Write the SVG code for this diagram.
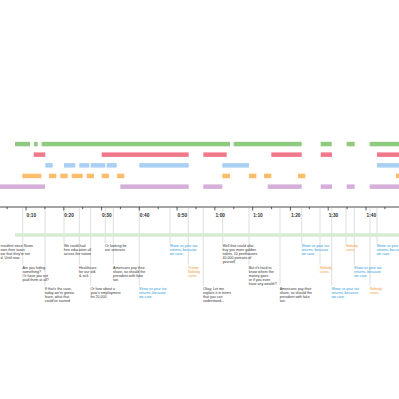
<svg xmlns="http://www.w3.org/2000/svg" width="399" height="399" viewBox="0 0 399 399">
<style>
.g{fill:#8fcb7f}.r{fill:#f0788a}.b{fill:#a9cff2}.o{fill:#fbbd6c}.p{fill:#d5afd9}
.t{font-family:"Liberation Sans",Arial,sans-serif;font-size:3.6px;fill:#333}
.tb{fill:#2a9ad6}.to{fill:#f39a3c}
.ax{font-family:"Liberation Sans",Arial,sans-serif;font-size:4.8px;font-weight:bold;fill:#333}
.ln{stroke:#d6d6d6;stroke-width:0.8;fill:none}
.tk{stroke:#333;stroke-width:0.8}
</style>
<rect width="399" height="399" fill="#fff"/>
<g id="bars">
<g id="row-green" class="g">
<rect x="15" y="141.8" width="15" height="4.5"/><rect x="34" y="141.8" width="3.7" height="4.5"/><rect x="41.7" y="141.8" width="188.3" height="4.5"/><rect x="233.7" y="141.8" width="68" height="4.5"/><rect x="320.7" y="141.8" width="11" height="4.5"/><rect x="346.7" y="141.8" width="8" height="4.5"/><rect x="369.7" y="141.8" width="30" height="4.5"/>
</g>
<g id="row-red" class="r">
<rect x="33.7" y="152.4" width="11.6" height="4.5"/><rect x="101.7" y="152.4" width="87" height="4.5"/><rect x="203.3" y="152.4" width="23.4" height="4.5"/><rect x="271.3" y="152.4" width="30.4" height="4.5"/><rect x="320.7" y="152.4" width="11.3" height="4.5"/><rect x="377" y="152.4" width="22" height="4.5"/>
</g>
<g id="row-blue" class="b">
<rect x="45.3" y="163.1" width="7.4" height="4.5"/><rect x="64" y="163.1" width="11.3" height="4.5"/><rect x="79.3" y="163.1" width="10" height="4.5"/><rect x="90.7" y="163.1" width="14.6" height="4.5"/><rect x="106.7" y="163.1" width="10" height="4.5"/><rect x="139.3" y="163.1" width="49.4" height="4.5"/><rect x="222.3" y="163.1" width="26.7" height="4.5"/><rect x="377" y="163.1" width="22" height="4.5"/>
</g>
<g id="row-orange" class="o">
<rect x="22.3" y="173.7" width="19" height="4.5"/><rect x="49" y="173.7" width="7.3" height="4.5"/><rect x="60.3" y="173.7" width="7.4" height="4.5"/><rect x="71.7" y="173.7" width="11" height="4.5"/><rect x="86.7" y="173.7" width="7.3" height="4.5"/><rect x="101.7" y="173.7" width="7.3" height="4.5"/><rect x="117" y="173.7" width="7.3" height="4.5"/><rect x="222.3" y="173.7" width="7.7" height="4.5"/><rect x="249" y="173.7" width="7.3" height="4.5"/><rect x="264" y="173.7" width="7.3" height="4.5"/><rect x="298" y="173.7" width="7.3" height="4.5"/><rect x="396" y="173.7" width="3" height="4.5"/>
</g>
<g id="row-purple" class="p">
<rect x="0" y="184.4" width="45" height="4.5"/><rect x="120.3" y="184.4" width="68.4" height="4.5"/><rect x="203.3" y="184.4" width="19" height="4.5"/><rect x="267.7" y="184.4" width="34" height="4.5"/><rect x="320.7" y="184.4" width="11.3" height="4.5"/><rect x="346.7" y="184.4" width="8" height="4.5"/><rect x="369.7" y="184.4" width="30" height="4.5"/>
</g>
</g>
<g id="connectors" class="ln">
<line x1="22.7" y1="208" x2="22.7" y2="264.5"/>
<line x1="45" y1="208" x2="45" y2="285.5"/>
<line x1="64" y1="208" x2="64" y2="243.5"/>
<line x1="79.3" y1="208" x2="79.3" y2="264.5"/>
<line x1="90.7" y1="208" x2="90.7" y2="285.5"/>
<line x1="105.3" y1="208" x2="105.3" y2="243.5"/>
<line x1="113.3" y1="208" x2="113.3" y2="264.5"/>
<line x1="139.3" y1="208" x2="139.3" y2="285.5"/>
<line x1="170" y1="208" x2="170" y2="243.5"/>
<line x1="188.3" y1="208" x2="188.3" y2="264.5"/>
<line x1="203.3" y1="208" x2="203.3" y2="285.5"/>
<line x1="222.7" y1="208" x2="222.7" y2="243.5"/>
<line x1="249" y1="208" x2="249" y2="264.5"/>
<line x1="280" y1="208" x2="280" y2="285.5"/>
<line x1="301.7" y1="208" x2="301.7" y2="243.5"/>
<line x1="320" y1="208" x2="320" y2="264.5"/>
<line x1="331.7" y1="208" x2="331.7" y2="285.5"/>
<line x1="346" y1="208" x2="346" y2="243.5"/>
<line x1="354.3" y1="208" x2="354.3" y2="264.5"/>
<line x1="370" y1="208" x2="370" y2="285.5"/>
<line x1="377" y1="208" x2="377" y2="243.5"/>
</g>
<rect id="band" x="15" y="233.2" width="384" height="3.6" fill="#d6edd1"/>
<g id="axis">
<line x1="0" y1="207" x2="399" y2="207" stroke="#333" stroke-width="0.9"/>
<g class="tk">
<line x1="26" y1="207" x2="26" y2="210.5"/><line x1="63.8" y1="207" x2="63.8" y2="210.5"/><line x1="101.6" y1="207" x2="101.6" y2="210.5"/><line x1="139.3" y1="207" x2="139.3" y2="210.5"/><line x1="177.1" y1="207" x2="177.1" y2="210.5"/><line x1="214.9" y1="207" x2="214.9" y2="210.5"/><line x1="252.7" y1="207" x2="252.7" y2="210.5"/><line x1="290.4" y1="207" x2="290.4" y2="210.5"/><line x1="328.2" y1="207" x2="328.2" y2="210.5"/><line x1="366" y1="207" x2="366" y2="210.5"/>
<line x1="7.1" y1="207" x2="7.1" y2="209.2"/><line x1="44.9" y1="207" x2="44.9" y2="209.2"/><line x1="82.7" y1="207" x2="82.7" y2="209.2"/><line x1="120.4" y1="207" x2="120.4" y2="209.2"/><line x1="158.2" y1="207" x2="158.2" y2="209.2"/><line x1="196" y1="207" x2="196" y2="209.2"/><line x1="233.8" y1="207" x2="233.8" y2="209.2"/><line x1="271.6" y1="207" x2="271.6" y2="209.2"/><line x1="309.3" y1="207" x2="309.3" y2="209.2"/><line x1="347.1" y1="207" x2="347.1" y2="209.2"/><line x1="384.9" y1="207" x2="384.9" y2="209.2"/>
</g>
<g class="ax">
<text x="26.5" y="217.4">0:10</text><text x="64.3" y="217.4">0:20</text><text x="102.1" y="217.4">0:30</text><text x="139.8" y="217.4">0:40</text><text x="177.6" y="217.4">0:50</text><text x="215.4" y="217.4">1:00</text><text x="253.2" y="217.4">1:10</text><text x="290.9" y="217.4">1:20</text><text x="328.7" y="217.4">1:30</text><text x="366.5" y="217.4">1:40</text>
</g>
</g>
<g id="notes" class="t">
<g id="n0"><text x="0.6" y="247.3">resident since Nixon</text><text x="0.6" y="251.3">own their taxes</text><text x="0.6" y="255.3">ow that they're not</text><text x="0.6" y="259.3">d. Until now.</text></g>
<g id="n1"><text x="22.4" y="268.5">Are you hiding</text><text x="22.4" y="272.5">something?</text><text x="22.4" y="276.5">Or have you not</text><text x="22.4" y="280.5">paid them at all?</text></g>
<g id="n2"><text x="44.7" y="289.5">If that's the case,</text><text x="44.7" y="293.5">today we're gonna</text><text x="44.7" y="297.5">learn, what that</text><text x="44.7" y="301.5">could've earned</text></g>
<g id="n3"><text x="63.7" y="247.3">We could had</text><text x="63.7" y="251.3">free education all</text><text x="63.7" y="255.3">across the nation</text></g>
<g id="n4"><text x="79" y="268.5">Healthcare</text><text x="79" y="272.5">for our old</text><text x="79" y="276.5">&amp; sick</text></g>
<g id="n5"><text x="90.4" y="289.5">Or how about a</text><text x="90.4" y="293.5">year's employment</text><text x="90.4" y="297.5">for 20,000</text></g>
<g id="n6"><text x="105" y="247.3">Or looking for</text><text x="105" y="251.3">our veterans</text></g>
<g id="n7"><text x="113" y="268.5">Americans pay their</text><text x="113" y="272.5">share, so should the</text><text x="113" y="276.5">president with fake</text><text x="113" y="280.5">tan.</text></g>
<g id="n8" class="tb"><text x="139" y="289.5">Show us your tax</text><text x="139" y="293.5">returns, because</text><text x="139" y="297.5">we care.</text></g>
<g id="n9" class="tb"><text x="169.7" y="247.3">Show us your tax</text><text x="169.7" y="251.3">returns, because</text><text x="169.7" y="255.3">we care.</text></g>
<g id="n10" class="to"><text x="188" y="268.5">Trump:</text><text x="188" y="272.5">Nobody</text><text x="188" y="276.5">cares</text></g>
<g id="n11"><text x="203" y="289.5">Okay, Let me</text><text x="203" y="293.5">explain it in terms</text><text x="203" y="297.5">that you can</text><text x="203" y="301.5">understand...</text></g>
<g id="n12"><text x="222.4" y="247.3">Well that could also</text><text x="222.4" y="251.3">buy you more golden</text><text x="222.4" y="255.3">toilets, 10 penthouses</text><text x="222.4" y="259.3">40,000 portraits of</text><text x="222.4" y="263.3">yourself</text></g>
<g id="n13"><text x="248.7" y="268.5">But it's hard to</text><text x="248.7" y="272.5">know where the</text><text x="248.7" y="276.5">money goes</text><text x="248.7" y="280.5">or if you even</text><text x="248.7" y="284.5">have any wealth?</text></g>
<g id="n14"><text x="279.7" y="289.5">Americans pay their</text><text x="279.7" y="293.5">share, so should the</text><text x="279.7" y="297.5">president with fake</text><text x="279.7" y="301.5">tan.</text></g>
<g id="n15" class="tb"><text x="301.4" y="247.3">Show us your tax</text><text x="301.4" y="251.3">returns, because</text><text x="301.4" y="255.3">we care.</text></g>
<g id="n16" class="to"><text x="319.7" y="268.5">Nobody</text><text x="319.7" y="272.5">cares.</text></g>
<g id="n17" class="tb"><text x="331.4" y="289.5">Show us your tax</text><text x="331.4" y="293.5">returns, because</text><text x="331.4" y="297.5">we care.</text></g>
<g id="n18" class="to"><text x="345.7" y="247.3">Nobody</text><text x="345.7" y="251.3">cares</text></g>
<g id="n19" class="tb"><text x="354" y="268.5">Show us your tax</text><text x="354" y="272.5">returns, because</text><text x="354" y="276.5">we care.</text></g>
<g id="n20" class="to"><text x="369.7" y="289.5">Nobody</text><text x="369.7" y="293.5">cares</text></g>
<g id="n21" class="tb"><text x="376.7" y="247.3">Show us your tax</text><text x="376.7" y="251.3">returns, because</text><text x="376.7" y="255.3">we care.</text></g>
</g>
</svg>
